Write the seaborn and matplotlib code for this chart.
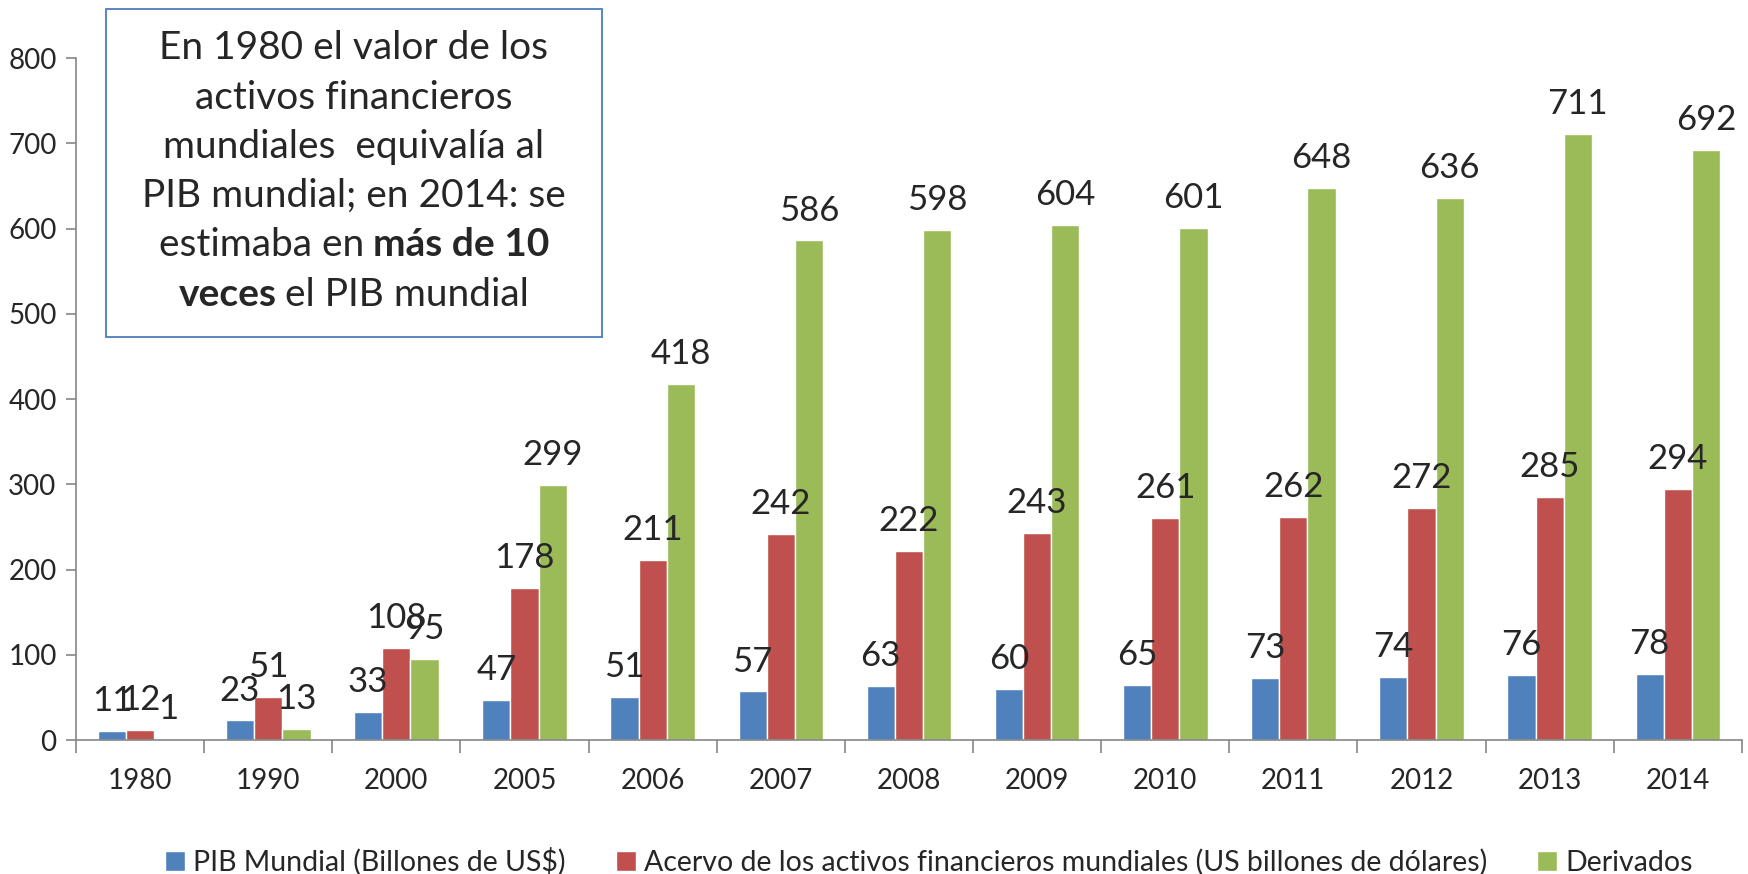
import pandas as pd
import matplotlib
matplotlib.use("Agg")
import matplotlib.pyplot as plt
import seaborn as sns
from matplotlib.patches import Rectangle
from matplotlib.offsetbox import TextArea, HPacker, AnnotationBbox

# datos
anios = ['1980', '1990', '2000', '2005', '2006', '2007', '2008', '2009', '2010', '2011', '2012', '2013', '2014']
pib = [11, 23, 33, 47, 51, 57, 63, 60, 65, 73, 74, 76, 78]
acervo = [12, 51, 108, 178, 211, 242, 222, 243, 261, 262, 272, 285, 294]
derivados = [1, 13, 95, 299, 418, 586, 598, 604, 601, 648, 636, 711, 692]
series = ['PIB Mundial (Billones de US$)',
          'Acervo de los activos financieros mundiales (US billones de dólares)',
          'Derivados']
colores = ['#4F81BD', '#C0504D', '#9BBB59']

df = pd.DataFrame({
    'anio': anios * 3,
    'valor': pib + acervo + derivados,
    'serie': [series[0]] * 13 + [series[1]] * 13 + [series[2]] * 13,
})

sns.set_style('white')
plt.rcParams['font.family'] = ['Lato', 'DejaVu Sans']

fig = plt.figure(figsize=(17.48, 8.74), dpi=100)
ax = fig.add_axes([0.0435, 0.1533, 0.953, 0.7803])

sns.barplot(data=df, x='anio', y='valor', hue='serie', palette=colores,
            width=0.66, gap=0, saturation=1, ax=ax)

for c in ax.containers:
    ax.bar_label(c, labels=[str(int(v)) for v in c.datavalues], padding=10, fontsize=25)

ax.set_ylim(0, 800)
ax.set_xlim(-0.5, 12.5)
ax.set_yticks(range(0, 801, 100))
ax.set_xlabel('')
ax.set_ylabel('')
ax.tick_params(axis='y', labelsize=20, length=7, width=1.2, color='#868686', left=True, pad=7)
ax.tick_params(axis='x', which='major', labelsize=20, length=0, pad=20)
ax.set_xticks([i - 0.5 for i in range(14)], minor=True)
ax.tick_params(axis='x', which='minor', length=9, width=1.2, color='#868686', bottom=True)
for s in ['top', 'right']:
    ax.spines[s].set_visible(False)
for s in ['left', 'bottom']:
    ax.spines[s].set_color('#868686')
    ax.spines[s].set_linewidth(1.2)

sns.move_legend(ax, 'center', bbox_to_anchor=(0.512, -0.179), ncol=3, frameon=False,
                title=None, fontsize=20.5, handlelength=0.7, handleheight=0.7,
                handletextpad=0.3, columnspacing=1.75)

# cuadro de texto
fig.patches.append(Rectangle((0.0606, 0.6144), 0.2838, 0.3753, transform=fig.transFigure,
                             facecolor='white', edgecolor='#4A7EBB', linewidth=1.3, zorder=5))
cx = 0.2025
fs = 28
lineas = [
    [('En 1980 el valor de los', 'normal')],
    [('activos financieros', 'normal')],
    [('mundiales  equivalía al', 'normal')],
    [('PIB mundial; en 2014: se', 'normal')],
    [('estimaba en', 'normal'), ('más de 10', 'bold')],
    [('veces', 'bold'), ('el PIB mundial', 'normal')],
]
ys = [48, 98, 147, 196, 245, 295]
for partes, y in zip(lineas, ys):
    yf = 1 - y / 874
    if len(partes) == 1:
        fig.text(cx, yf, partes[0][0], ha='center', va='center', fontsize=fs, zorder=6)
    else:
        hijos = [TextArea(t, textprops=dict(fontsize=fs, fontweight=w)) for t, w in partes]
        caja = HPacker(children=hijos, align='baseline', pad=0, sep=fs * 0.22)
        ab = AnnotationBbox(caja, (cx, yf), xycoords='figure fraction', frameon=False,
                            box_alignment=(0.5, 0.5), zorder=6)
        fig.add_artist(ab)

fig.savefig('out.png', dpi=100)
